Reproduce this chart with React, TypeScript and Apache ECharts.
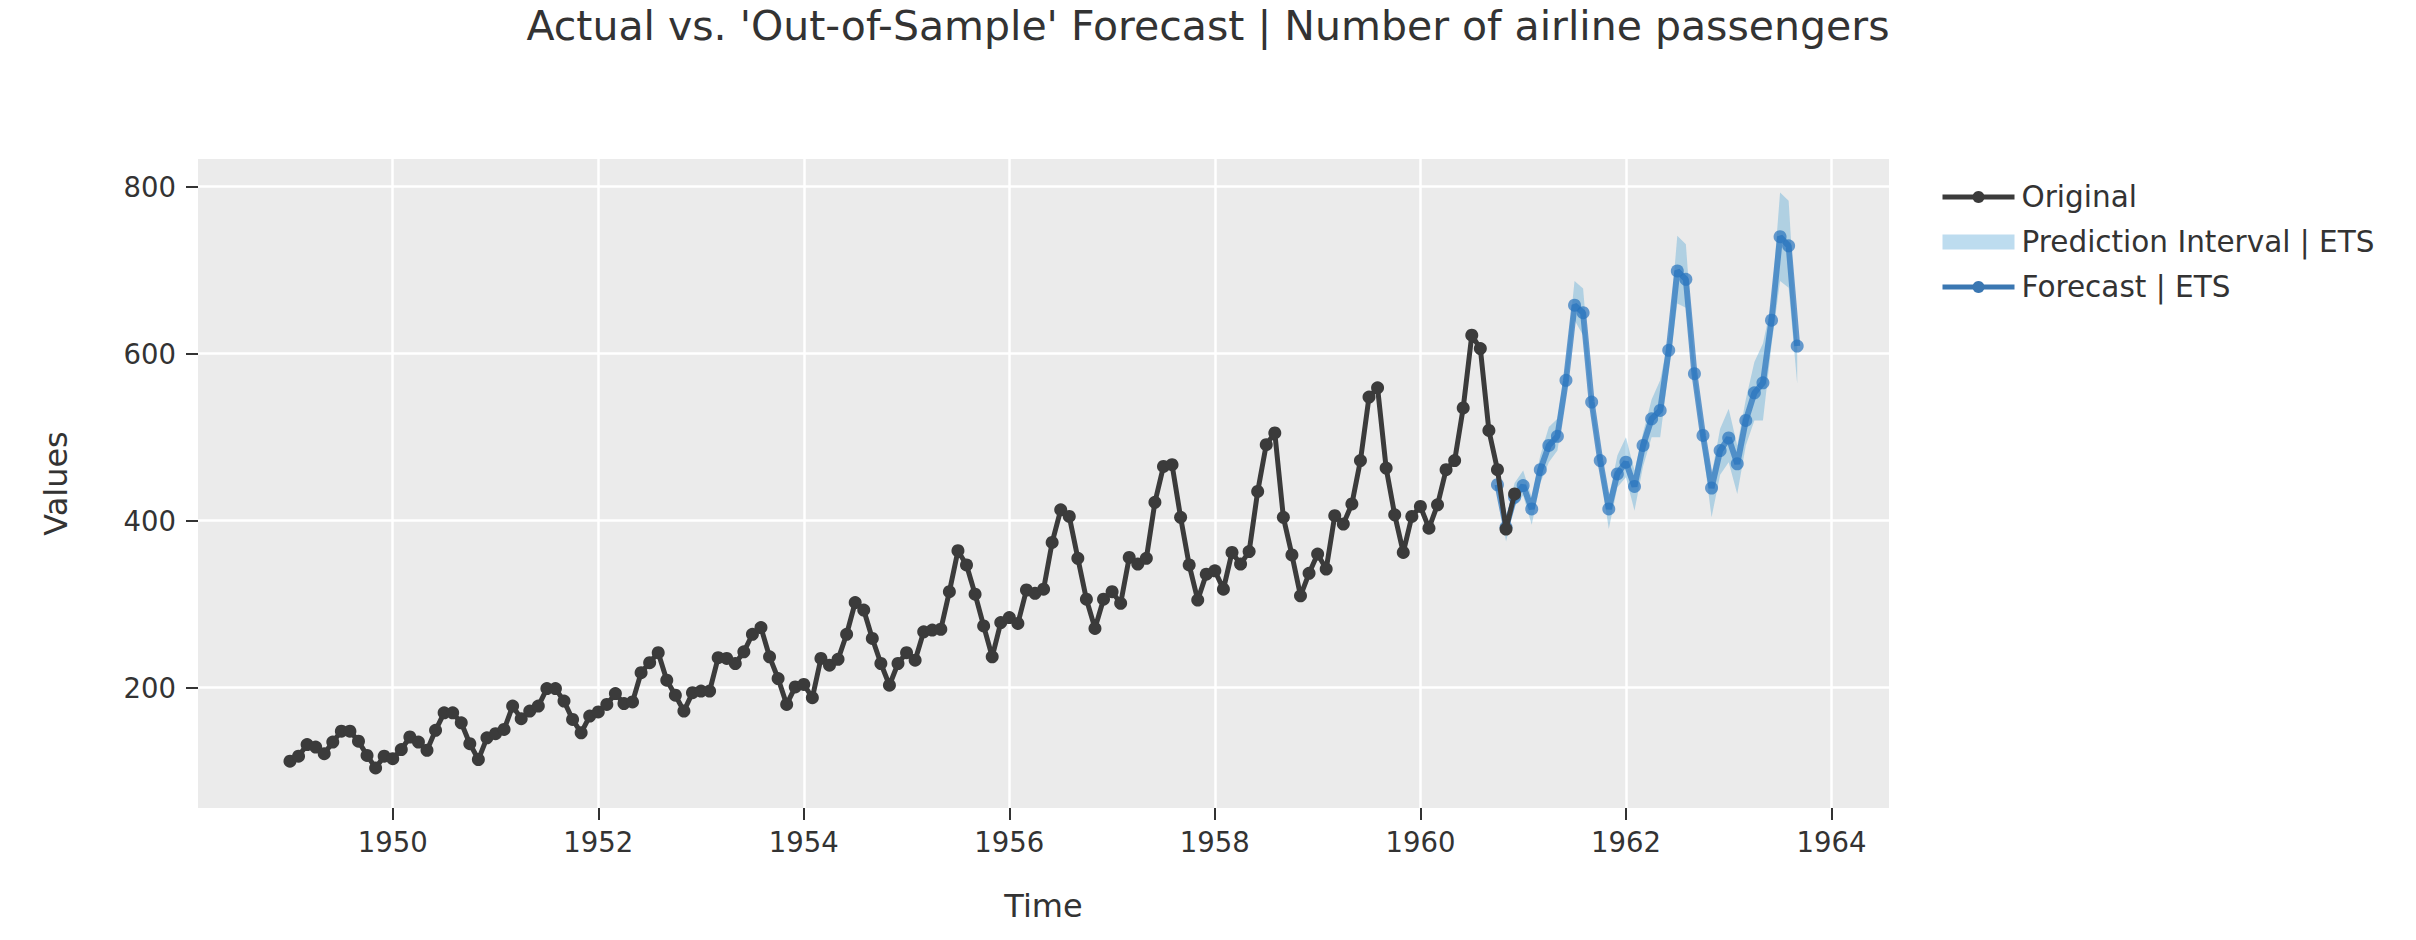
import React, { useEffect, useRef } from "react";
import * as echarts from "echarts";

const TITLE = "Actual vs. 'Out-of-Sample' Forecast | Number of airline passengers";

// Monthly series, starting Jan 1949
const originalStartYear = 1949;
const originalValues = [
  112, 118, 132, 129, 121, 135, 148, 148, 136, 119, 104, 118,
  115, 126, 141, 135, 125, 149, 170, 170, 158, 133, 114, 140,
  145, 150, 178, 163, 172, 178, 199, 199, 184, 162, 146, 166,
  171, 180, 193, 181, 183, 218, 230, 242, 209, 191, 172, 194,
  196, 196, 236, 235, 229, 243, 264, 272, 237, 211, 180, 201,
  204, 188, 235, 227, 234, 264, 302, 293, 259, 229, 203, 229,
  242, 233, 267, 269, 270, 315, 364, 347, 312, 274, 237, 278,
  284, 277, 317, 313, 318, 374, 413, 405, 355, 306, 271, 306,
  315, 301, 356, 348, 355, 422, 465, 467, 404, 347, 305, 336,
  340, 318, 362, 348, 363, 435, 491, 505, 404, 359, 310, 337,
  360, 342, 406, 396, 420, 472, 548, 559, 463, 407, 362, 405,
  417, 391, 419, 461, 472, 535, 622, 606, 508, 461, 390, 432,
];

// Forecast, starting Oct 1960 (month index 9)
const forecastStartYear = 1960;
const forecastStartMonth = 9;
const forecastValues = [
  443, 392, 428,
  442, 414, 461, 490, 501, 568, 658, 649, 542, 472, 414, 456,
  470, 441, 490, 522, 532, 604, 699, 689, 576, 502, 439, 484,
  499, 468, 520, 553, 565, 640, 740, 729, 609,
];
const forecastLower = [
  435, 375, 418,
  430, 395, 445, 470, 484, 548, 640, 622, 525, 458, 390, 440,
  452, 412, 465, 500, 500, 580, 660, 655, 560, 485, 404, 455,
  470, 432, 490, 520, 520, 610, 687, 679, 564,
];
const forecastUpper = [
  450, 403, 445,
  460, 428, 478, 512, 522, 588, 687, 678, 555, 485, 428, 478,
  500, 460, 505, 545, 568, 620, 741, 731, 590, 515, 455, 510,
  534, 490, 545, 590, 612, 660, 793, 783, 615,
];

const xTickYears = [1950, 1952, 1954, 1956, 1958, 1960, 1962, 1964];
const yTickValues = [200, 400, 600, 800];

const FONT = "DejaVu Sans";
const TEXT = "#333333";

export default function App() {
  const ref = useRef<HTMLDivElement>(null);

  useEffect(() => {
    if (!ref.current) return;
    const chart = echarts.init(ref.current, undefined, { renderer: "svg" });

    const origData = originalValues.map((v, i) => [originalStartYear + i / 12, v]);
    const fcX = forecastValues.map((_, i) => forecastStartYear + (forecastStartMonth + i) / 12);
    const fcData = forecastValues.map((v, i) => [fcX[i], v]);
    const bandData = forecastUpper.map((v, i) => [fcX[i], forecastLower[i], v]);

    const blue = "rgba(40,115,190,0.7)";

    chart.setOption({
      animation: false,
      backgroundColor: "#ffffff",
      title: {
        text: TITLE,
        left: "center",
        top: 0,
        textStyle: { fontFamily: FONT, fontSize: 41, fontWeight: "normal", color: TEXT },
      },
      legend: {
        orient: "vertical",
        left: 1935,
        top: 177,
        itemWidth: 72,
        itemHeight: 15,
        itemGap: 15,
        textStyle: { fontFamily: FONT, fontSize: 29.5, color: TEXT, padding: [0, 0, 0, 2] },
        data: [
          { name: "Original", itemStyle: { color: "#3b3b3b" }, lineStyle: { color: "#3b3b3b", width: 5 } },
          { name: "Prediction Interval | ETS", icon: "rect", itemStyle: { color: "#bddcef" } },
          { name: "Forecast | ETS", itemStyle: { color: "#3a77b2" }, lineStyle: { color: "#3a77b2", width: 5 } },
        ],
      },
      grid: {
        left: 198,
        right: 527,
        top: 159,
        bottom: 132,
        show: true,
        backgroundColor: "#ebebeb",
        borderWidth: 0,
        containLabel: false,
      },
      xAxis: {
        type: "value",
        min: 1948.105,
        max: 1964.56,
        name: "Time",
        nameLocation: "middle",
        nameGap: 82,
        nameTextStyle: { fontFamily: FONT, fontSize: 32, color: TEXT },
        axisLine: { show: false },
        axisTick: {
          show: true,
          length: 12,
          lineStyle: { color: TEXT, width: 2 },
          customValues: xTickYears,
        },
        axisLabel: {
          customValues: xTickYears,
          margin: 20,
          fontFamily: FONT,
          fontSize: 27.5,
          color: TEXT,
          formatter: (v: number) => String(Math.round(v)),
        },
        splitLine: { show: true, lineStyle: { color: "#ffffff", width: 2.5 } },
      },
      yAxis: {
        type: "value",
        min: 56,
        max: 833,
        name: "Values",
        nameLocation: "middle",
        nameGap: 126,
        nameTextStyle: { fontFamily: FONT, fontSize: 32, color: TEXT },
        axisLine: { show: false },
        axisTick: {
          show: true,
          length: 12,
          lineStyle: { color: TEXT, width: 2 },
          customValues: yTickValues,
        },
        axisLabel: {
          customValues: yTickValues,
          margin: 22,
          fontFamily: FONT,
          fontSize: 27.5,
          color: TEXT,
        },
        splitLine: { show: true, lineStyle: { color: "#ffffff", width: 2.5 } },
      },
      series: [
        {
          name: "Prediction Interval | ETS",
          type: "custom",
          data: bandData,
          encode: { x: 0, y: [1, 2] },
          itemStyle: { color: "#bddcef" },
          silent: true,
          z: 1,
          renderItem: (params: any, api: any) => {
            if (params.dataIndex !== 0) return null;
            const upper = bandData.map((d) => api.coord([d[0], d[2]]));
            const lower = bandData.map((d) => api.coord([d[0], d[1]])).reverse();
            return {
              type: "polygon",
              shape: { points: upper.concat(lower) },
              style: { fill: "rgba(88,168,213,0.4)", stroke: "none" },
            };
          },
        },
        {
          name: "Forecast | ETS",
          type: "line",
          data: fcData,
          symbol: "circle",
          symbolSize: 13,
          color: blue,
          lineStyle: { color: blue, width: 6 },
          itemStyle: { color: blue },
          z: 2,
        },
        {
          name: "Original",
          type: "line",
          data: origData,
          symbol: "circle",
          symbolSize: 13,
          color: "#3b3b3b",
          lineStyle: { color: "#3b3b3b", width: 5 },
          itemStyle: { color: "#3b3b3b" },
          z: 3,
        },
      ],
    });

    return () => chart.dispose();
  }, []);

  return (
    <div
      ref={ref}
      style={{ position: "fixed", left: 0, top: 0, width: 2416, height: 940, background: "#fff" }}
    />
  );
}
